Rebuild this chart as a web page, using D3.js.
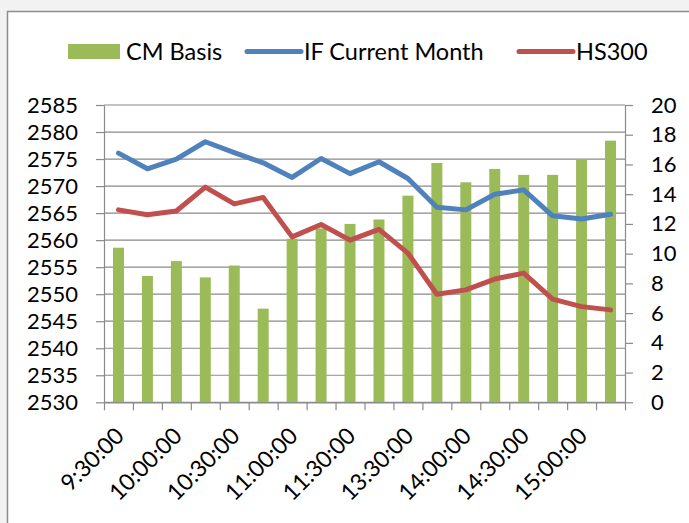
<!DOCTYPE html>
<html lang="en">
<head>
<meta charset="utf-8">
<script src="https://cdnjs.cloudflare.com/ajax/libs/d3/7.8.5/d3.min.js"></script>
<style>
  html, body { margin: 0; padding: 0; background: #f2f2f2; }
  svg { display: block; }
</style>
</head>
<body>
<script>
// categories: 15 minute samples, afternoon session resumes after 11:30
var times = ["9:30:00", "9:45:00", "10:00:00", "10:15:00", "10:30:00", "10:45:00",
             "11:00:00", "11:15:00", "11:30:00", "13:15:00", "13:30:00", "13:45:00",
             "14:00:00", "14:15:00", "14:30:00", "14:45:00", "15:00:00", "15:15:00"]
var cmBasis = [10.4, 8.5, 9.5, 8.4, 9.2, 6.3, 11.0, 11.7, 12.0, 12.3, 13.9, 16.1,
               14.8, 15.7, 15.3, 15.3, 16.3, 17.6]
var ifCurrent = [2576.1, 2573.2, 2575.0, 2578.2, 2576.2, 2574.3, 2571.6, 2575.1, 2572.3,
                 2574.5, 2571.4, 2566.1, 2565.6, 2568.5, 2569.3, 2564.5, 2563.9, 2564.8]
var hs300 = [2565.6, 2564.7, 2565.4, 2569.8, 2566.7, 2567.9, 2560.6, 2562.9, 2560.0,
             2562.0, 2557.6, 2550.0, 2550.8, 2552.8, 2553.9, 2549.1, 2547.7, 2547.1]
var leftTicks = d3.range(2530, 2586, 5)
var rightTicks = d3.range(0, 21, 2)

var width = 689
var height = 523
var plotLeft = 104, plotRight = 625, plotTop = 105, plotBottom = 402.3
var font = "Lato, 'Open Sans', sans-serif"
var gridColor = "#8a8a8a"
var green = "#9bbb59", blue = "#4f81bd", red = "#c0504d"

var svg = d3.select("body").append("svg")
    .attr("width", width)
    .attr("height", height)
    .attr("font-family", font)

// chart area
svg.append("rect")
    .attr("x", 7.5).attr("y", 11.5)
    .attr("width", 720).attr("height", 540)
    .attr("fill", "#fff")
    .attr("stroke", "#8c8c8c")
    .attr("stroke-width", 1.5)

var x = d3.scaleBand().domain(times).range([plotLeft, plotRight])
    .paddingInner(0.62).paddingOuter(0.31)
var xEdge = d3.scaleLinear().domain([0, times.length]).range([plotLeft, plotRight])
var yL = d3.scaleLinear().domain([2530, 2585]).range([plotBottom, plotTop])
var yR = d3.scaleLinear().domain([0, 20]).range([plotBottom, plotTop])
var cx = d => x(d) + x.bandwidth() / 2

// gridlines
svg.append("g")
    .selectAll("line")
    .data(leftTicks)
    .join("line")
    .attr("x1", plotLeft).attr("x2", plotRight)
    .attr("y1", d => yL(d)).attr("y2", d => yL(d))
    .attr("stroke", gridColor)
    .attr("stroke-width", 1.2)

// bars
svg.append("g")
    .selectAll("rect")
    .data(cmBasis)
    .join("rect")
    .attr("x", (d, i) => x(times[i]))
    .attr("width", x.bandwidth())
    .attr("y", d => yR(d))
    .attr("height", d => yR(0) - yR(d))
    .attr("fill", green)

// axes
function styleAxis(g) {
  g.select(".domain").attr("stroke", gridColor).attr("stroke-width", 1.2)
  g.selectAll(".tick line").attr("stroke", gridColor).attr("stroke-width", 1.2)
  g.selectAll(".tick text").attr("font-size", 22).attr("fill", "#000").attr("font-family", font)
}

svg.append("g")
    .attr("transform", `translate(${plotLeft},0)`)
    .call(d3.axisLeft(yL).tickValues(leftTicks).tickFormat(d3.format("d"))
      .tickSize(8).tickSizeOuter(0).tickPadding(18))
    .call(styleAxis)

svg.append("g")
    .attr("transform", `translate(${plotRight},0)`)
    .call(d3.axisRight(yR).tickValues(rightTicks).tickSize(8).tickSizeOuter(0).tickPadding(18))
    .call(styleAxis)

svg.append("g")
    .attr("transform", `translate(0,${plotBottom})`)
    .call(d3.axisBottom(xEdge).tickValues(d3.range(0, times.length + 1)).tickFormat("").tickSize(8).tickSizeOuter(0))
    .call(styleAxis)

// rotated time labels, every other category
svg.append("g")
    .selectAll("text")
    .data(times.filter((d, i) => i % 2 === 0))
    .join("text")
    .attr("transform", d => `translate(${cx(d) + 7},${plotBottom + 35}) rotate(-45)`)
    .attr("text-anchor", "end")
    .attr("font-size", 23)
    .text(d => d)

// lines
var line = d3.line().x((d, i) => cx(times[i])).y(d => yL(d))
;[[ifCurrent, blue], [hs300, red]].forEach(([vals, color]) => {
  svg.append("path")
      .datum(vals)
      .attr("d", line)
      .attr("fill", "none")
      .attr("stroke", color)
      .attr("stroke-width", 5)
      .attr("stroke-linejoin", "round")
      .attr("stroke-linecap", "round")
})

// legend
var legend = svg.append("g").attr("font-size", 23.5)
legend.append("rect").attr("x", 68).attr("y", 44).attr("width", 52).attr("height", 15).attr("fill", green)
legend.append("text").attr("x", 126).attr("y", 60).text("CM Basis")
legend.append("line").attr("x1", 247).attr("x2", 301).attr("y1", 51.5).attr("y2", 51.5)
    .attr("stroke", blue).attr("stroke-width", 5).attr("stroke-linecap", "round")
legend.append("text").attr("x", 304).attr("y", 60).text("IF Current Month")
legend.append("line").attr("x1", 519).attr("x2", 573).attr("y1", 51.5).attr("y2", 51.5)
    .attr("stroke", red).attr("stroke-width", 5).attr("stroke-linecap", "round")
legend.append("text").attr("x", 576).attr("y", 60).text("HS300")
</script>
</body>
</html>
